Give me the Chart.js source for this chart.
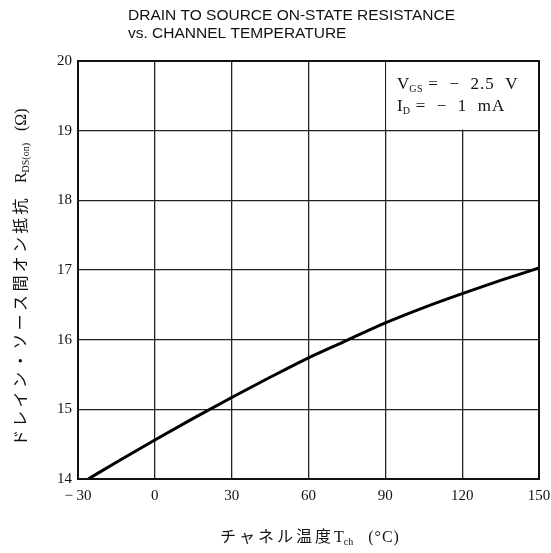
<!DOCTYPE html>
<html>
<head>
<meta charset="utf-8">
<script src="https://cdn.jsdelivr.net/npm/chart.js@4.4.1/dist/chart.umd.min.js"></script>
<style>
html,body{margin:0;padding:0;background:#fff;}
#wrap{width:551px;height:553px;position:relative;}
</style>
</head>
<body>
<div id="wrap"><canvas id="c" width="551" height="553"></canvas></div>
<script>
// ---- data ----
const temps = [-26, -15, 0, 15, 30, 45, 60, 75, 90, 105, 120, 135, 150];
const rdsOn = [14.0, 14.24, 14.56, 14.87, 15.17, 15.46, 15.74, 15.99, 16.24, 16.46, 16.66, 16.85, 17.03];
const xTicks = [-30, 0, 30, 60, 90, 120, 150];
const xTickLabels = ['− 30', '0', '30', '60', '90', '120', '150'];
const yTicks = [14, 15, 16, 17, 18, 19, 20];
const yTickLabels = ['14', '15', '16', '17', '18', '19', '20'];
const titleLines = ['DRAIN TO SOURCE ON-STATE RESISTANCE', 'vs. CHANNEL TEMPERATURE'];
const xTitleJa = 'チャネル温度';
const yTitleJa = 'ドレイン・ソース間オン抵抗';
const condVgs = ['V', 'GS', ' =  −  2.5  V'];
const condId = ['I', 'D', ' =  −  1  mA'];

const points = temps.map((t, i) => ({x: t, y: rdsOn[i]}));

const SERIF = '"Liberation Serif", "DejaVu Serif", serif';
const SANS = '"Liberation Sans", Arial, sans-serif';
const CJK = '"Noto Sans CJK JP", sans-serif';

function drawRuns(ctx, x, y, runs) {
  let cx = x;
  for (const r of runs) {
    ctx.font = r.font;
    ctx.letterSpacing = r.ls || '0px';
    ctx.fillText(r.t, cx, y + (r.dy || 0));
    cx += ctx.measureText(r.t).width;
  }
  ctx.letterSpacing = '0px';
  return cx - x;
}

const textPlugin = {
  id: 'texts',
  beforeDatasetsDraw(chart) {
    const {ctx, scales: {x, y}} = chart;
    const l = x.getPixelForValue(90), r = x.getPixelForValue(150);
    const t = y.getPixelForValue(20), b = y.getPixelForValue(19);
    ctx.save();
    ctx.fillStyle = '#fff';
    ctx.fillRect(l + 1, t + 1, r - l - 2, b - t - 2);
    ctx.restore();
  },
  afterDraw(chart) {
    const {ctx, chartArea: a} = chart;
    ctx.save();
    // frame
    ctx.strokeStyle = '#111';
    ctx.lineWidth = 2;
    ctx.strokeRect(a.left, a.top, a.right - a.left, a.bottom - a.top);

    ctx.fillStyle = '#111';
    ctx.textBaseline = 'alphabetic';
    ctx.textAlign = 'left';
    // title
    ctx.font = '15.5px ' + SANS;
    ctx.fillText(titleLines[0], 128, 20);
    ctx.fillText(titleLines[1], 128, 38);

    // condition box text
    const big = '17px ' + SERIF, small = '10px ' + SERIF;
    drawRuns(ctx, 397, 89, [{t: condVgs[0], font: big}, {t: condVgs[1], font: small, dy: 3, ls: '0.5px'}, {t: condVgs[2], font: big, ls: '1px'}]);
    drawRuns(ctx, 397, 111, [{t: condId[0], font: big}, {t: condId[1], font: small, dy: 3, ls: '0.5px'}, {t: condId[2], font: big, ls: '1px'}]);

    // x title
    const xRuns = [
      {t: xTitleJa, font: '16px ' + CJK, ls: '3px'},
      {t: 'T', font: '16px ' + SERIF},
      {t: 'ch', font: '10px ' + SERIF, dy: 3},
      {t: '   (°C)', font: '16px ' + SERIF, ls: '1px'}
    ];
    drawRuns(ctx, 220, 542, xRuns);

    // y title (rotated)
    const yRuns = [
      {t: yTitleJa, font: '16px ' + CJK, ls: '3.3px'},
      {t: '   R', font: '16px ' + SERIF},
      {t: 'DS(on)', font: '10px ' + SERIF, dy: 3},
      {t: '   (Ω)', font: '16px ' + SERIF}
    ];
    ctx.translate(26, 446);
    ctx.rotate(-Math.PI / 2);
    drawRuns(ctx, 0, 0, yRuns);
    ctx.restore();
  }
};

new Chart(document.getElementById('c'), {
  type: 'scatter',
  data: {
    datasets: [{
      data: points,
      showLine: true,
      borderColor: '#000',
      borderWidth: 3,
      pointRadius: 0,
      tension: 0.4,
      cubicInterpolationMode: 'monotone',
      fill: false
    }]
  },
  options: {
    responsive: false,
    animation: false,
    devicePixelRatio: 1,
    layout: {padding: {top: 61, right: 12, left: 0, bottom: 0}},
    plugins: {legend: {display: false}, tooltip: {enabled: false}, title: {display: false}},
    scales: {
      x: {
        type: 'linear', min: -30, max: 150,
        afterBuildTicks: s => { s.ticks = xTicks.map(v => ({value: v})); },
        afterFit: s => { s.height = 74; s.paddingLeft = 0; s.paddingRight = 0; },
        grid: {color: '#222', lineWidth: 1.3, drawTicks: false},
        border: {display: false},
        ticks: {
          padding: 8, color: '#111', maxRotation: 0,
          font: {family: SERIF, size: 15},
          callback: (v) => { const i = xTicks.indexOf(v); return i >= 0 ? xTickLabels[i] : ''; }
        }
      },
      y: {
        type: 'linear', min: 14, max: 20,
        afterBuildTicks: s => { s.ticks = yTicks.map(v => ({value: v})); },
        afterFit: s => { s.width = 78; s.paddingTop = 0; s.paddingBottom = 0; },
        grid: {color: '#222', lineWidth: 1.3, drawTicks: false},
        border: {display: false},
        ticks: {
          padding: 6, color: '#111',
          font: {family: SERIF, size: 15},
          callback: (v) => { const i = yTicks.indexOf(v); return i >= 0 ? yTickLabels[i] : ''; }
        }
      }
    }
  },
  plugins: [textPlugin]
});
</script>
</body>
</html>
